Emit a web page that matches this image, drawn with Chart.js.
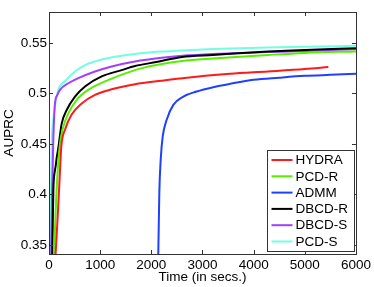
<!DOCTYPE html>
<html>
<head>
<meta charset="utf-8">
<script src="https://cdn.jsdelivr.net/npm/chart.js@4.4.1/dist/chart.umd.min.js"></script>
<style>
  body { margin: 0; background: #fff; }
  canvas { display: block; }
</style>
</head>
<body>
<canvas id="myChart" width="374" height="287"></canvas>
<script>
// tick labels
const xTicks = [0, 1000, 2000, 3000, 4000, 5000, 6000];
const yTicks = [0.35, 0.4, 0.45, 0.5, 0.55];
const yTickLabels = ["0.35", "0.4", "0.45", "0.5", "0.55"];

// series names
const seriesNames = ["HYDRA", "PCD-R", "ADMM", "DBCD-R", "DBCD-S", "PCD-S"];

// values (time in secs, AUPRC)
const hydraT = [105, 130, 170, 210, 240, 313, 443, 639, 899, 1225, 1680, 2200, 2695, 3537, 4280, 5000, 5460];
const hydraV = [0.325, 0.342, 0.378, 0.418, 0.447, 0.464, 0.479, 0.490, 0.4985, 0.504, 0.509, 0.5125, 0.5155, 0.5193, 0.5216, 0.524, 0.526];

const pcdrT = [90, 120, 160, 215, 280, 377, 541, 768, 1094, 1680, 2100, 2600, 3200, 4280, 5000, 6000];
const pcdrV = [0.325, 0.37, 0.415, 0.450, 0.467, 0.480, 0.4935, 0.5035, 0.5118, 0.523, 0.528, 0.532, 0.5345, 0.538, 0.540, 0.5415];

const admmT = [2130, 2136, 2156, 2183, 2222, 2300, 2430, 2625, 2886, 3211, 3537, 4000, 4500, 5000, 5500, 6000];
const admmV = [0.33, 0.3418, 0.4012, 0.4342, 0.4572, 0.4738, 0.4886, 0.4968, 0.5018, 0.5061, 0.5094, 0.5134, 0.5155, 0.5173, 0.5183, 0.5193];

const dbcdrT = [55, 65, 85, 117, 130, 150, 182, 248, 346, 508, 704, 1030, 1421, 1680, 2100, 2600, 3200, 4280, 5000, 6000];
const dbcdrV = [0.325, 0.345, 0.404, 0.424, 0.428, 0.436, 0.446, 0.470, 0.4835, 0.4967, 0.5068, 0.5167, 0.523, 0.527, 0.531, 0.536, 0.538, 0.5414, 0.543, 0.5447];

const dbcdsT = [40, 60, 85, 117, 160, 215, 377, 573, 899, 1225, 1680, 2200, 2600, 3200, 4280, 5000, 6000];
const dbcdsV = [0.33, 0.40, 0.455, 0.490, 0.498, 0.5035, 0.510, 0.515, 0.5216, 0.5266, 0.5315, 0.5352, 0.5372, 0.539, 0.5408, 0.542, 0.5437];

const pcdsT = [25, 40, 55, 65, 117, 182, 313, 508, 704, 1030, 1421, 1680, 2200, 2600, 3200, 4280, 5000, 6000];
const pcdsV = [0.33, 0.40, 0.454, 0.464, 0.487, 0.5035, 0.512, 0.5216, 0.528, 0.5335, 0.5372, 0.539, 0.5413, 0.5425, 0.5438, 0.5453, 0.546, 0.547];

const colors = ["#ff1a1a", "#55f000", "#2040ff", "#000000", "#a040ff", "#70ffe0"];

const allT = [hydraT, pcdrT, admmT, dbcdrT, dbcdsT, pcdsT];
const allV = [hydraV, pcdrV, admmV, dbcdrV, dbcdsV, pcdsV];

const fontFamily = "'Liberation Sans', Arial, sans-serif";
const fontSize = 13.5;

//MATLAB style box with ticks pointing inside
const boxPlugin = {
  id: "box",
  afterDatasetsDraw(chart) {
    const c = chart.ctx;
    const a = chart.chartArea;
    const xs = chart.scales.x;
    const ys = chart.scales.y;
    c.save();
    c.strokeStyle = "#333";
    c.lineWidth = 1;
    c.beginPath();
    xTicks.forEach((t) => {
      const px = Math.round(xs.getPixelForValue(t)) + 0.5;
      c.moveTo(px, a.bottom);
      c.lineTo(px, a.bottom - 4);
      c.moveTo(px, a.top);
      c.lineTo(px, a.top + 4);
    });
    yTicks.forEach((t) => {
      const py = Math.round(ys.getPixelForValue(t)) + 0.5;
      c.moveTo(a.left, py);
      c.lineTo(a.left + 4, py);
      c.moveTo(a.right, py);
      c.lineTo(a.right - 4, py);
    });
    c.stroke();
    c.strokeRect(Math.round(a.left) + 0.5, Math.round(a.top) + 0.5, Math.round(a.right - a.left), Math.round(a.bottom - a.top));
    c.restore();
  },
};

//legend drawn inside the plot, bottom right
const legendPlugin = {
  id: "boxLegend",
  afterDraw(chart) {
    const c = chart.ctx;
    const a = chart.chartArea;
    const w = 87;
    const h = 101;
    const x0 = Math.round(a.right - 2 - w) + 0.5;
    const y0 = Math.round(a.bottom - 3 - h) + 0.5;
    c.save();
    c.fillStyle = "#fff";
    c.fillRect(x0, y0, w, h);
    c.strokeStyle = "#333";
    c.lineWidth = 1;
    c.strokeRect(x0, y0, w, h);
    c.font = fontSize + "px " + fontFamily;
    c.textBaseline = "middle";
    c.textAlign = "left";
    chart.data.datasets.forEach((ds, i) => {
      const y = y0 + 9.5 + i * 16.3;
      c.strokeStyle = ds.borderColor;
      c.lineWidth = 2;
      c.beginPath();
      c.moveTo(x0 + 4, y);
      c.lineTo(x0 + 25, y);
      c.stroke();
      c.fillStyle = "#000";
      c.fillText(ds.label, x0 + 28, y + 0.5);
    });
    c.restore();
  },
};

const datasets = seriesNames.map((name, i) => ({
  label: name,
  data: allT[i].map((t, j) => ({ x: t, y: allV[i][j] })),
  borderColor: colors[i],
  backgroundColor: colors[i],
  borderWidth: 2,
  pointRadius: 0,
  showLine: true,
  cubicInterpolationMode: "monotone",
}));

const myChart = new Chart(document.getElementById("myChart"), {
  type: "scatter",
  data: { datasets: datasets },
  plugins: [boxPlugin, legendPlugin],
  options: {
    responsive: false,
    animation: false,
    layout: { padding: { top: 12, right: 18, left: 0, bottom: 0 } },
    plugins: { legend: { display: false }, tooltip: { enabled: false } },
    scales: {
      x: {
        type: "linear",
        min: 0,
        max: 6000,
        grid: { display: false, drawTicks: false, tickLength: 0 },
        border: { display: false },
        afterBuildTicks: (s) => { s.ticks = xTicks.map((v) => ({ value: v })); },
        afterFit: (s) => { s.height = 33; },
        ticks: {
          padding: 3,
          color: "#000",
          maxRotation: 0,
          font: { family: fontFamily, size: fontSize },
          callback: (v, i) => String(xTicks[i]),
        },
        title: {
          display: true,
          text: "Time (in secs.)",
          color: "#000",
          padding: { top: 0, bottom: 2 },
          font: { family: fontFamily, size: fontSize },
        },
      },
      y: {
        min: 0.341,
        max: 0.5805,
        grid: { display: false, drawTicks: false, tickLength: 0 },
        border: { display: false },
        afterBuildTicks: (s) => { s.ticks = yTicks.map((v) => ({ value: v })); },
        afterFit: (s) => { s.width = 49; },
        ticks: {
          padding: 2,
          color: "#000",
          font: { family: fontFamily, size: fontSize },
          callback: (v, i) => yTickLabels[i],
        },
        title: {
          display: true,
          text: "AUPRC",
          color: "#000",
          padding: { top: 1, bottom: 0 },
          font: { family: fontFamily, size: fontSize },
        },
      },
    },
  },
});
</script>
</body>
</html>
